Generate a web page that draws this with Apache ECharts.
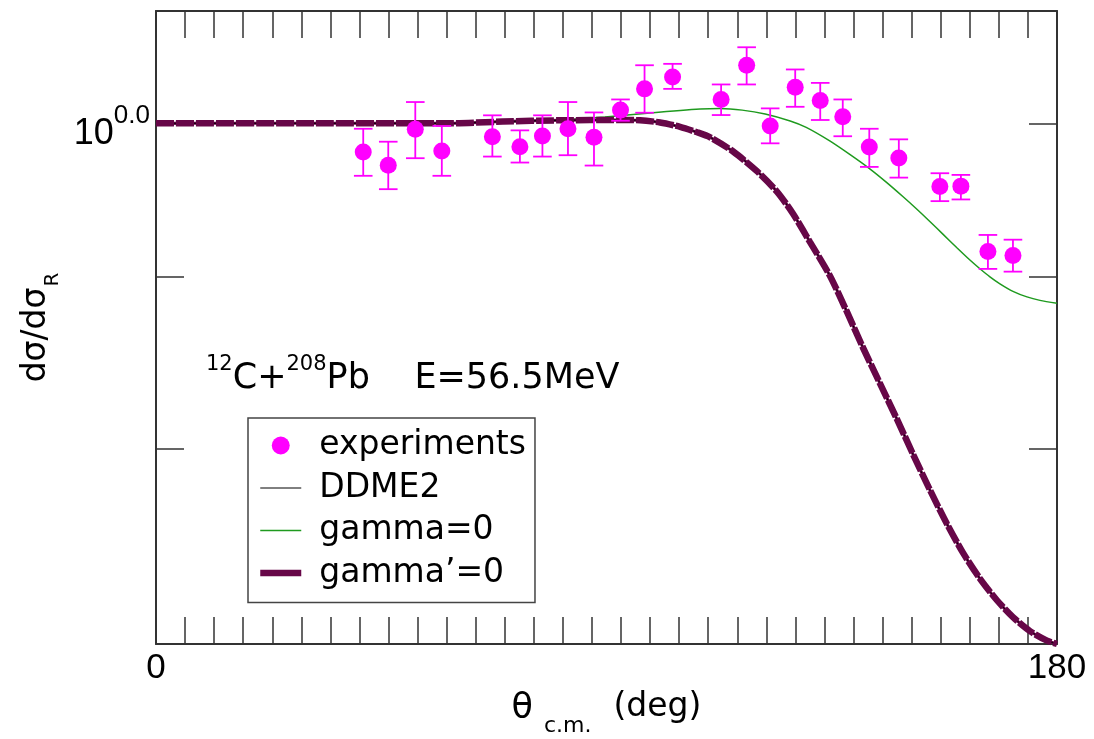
<!DOCTYPE html>
<html><head><meta charset="utf-8">
<script src="https://cdn.jsdelivr.net/npm/echarts@6/dist/echarts.min.js"></script>
<style>html,body{margin:0;padding:0;background:#fff}#c{width:1094px;height:739px}</style>
</head><body><div id="c"></div>
<script>
// ---- data ----
const expAngle = [41.4, 46.4, 51.8, 57.1, 67.2, 72.7, 77.2, 82.3, 87.5, 92.8, 97.6, 103.2, 112.9, 118.0, 122.7, 127.7, 132.7, 137.2, 142.5, 148.4, 156.6, 160.8, 166.2, 171.2];
const expValue = [0.9806, 0.9717, 0.9959, 0.9813, 0.9909, 0.9841, 0.9914, 0.9963, 0.9905, 1.0091, 1.0239, 1.0323, 1.0165, 1.0406, 0.9982, 1.0251, 1.0158, 1.0045, 0.9839, 0.9766, 0.9576, 0.9579, 0.9160, 0.9134];
const expLow   = [0.9647, 0.9559, 0.9764, 0.9647, 0.9775, 0.9735, 0.9775, 0.9784, 0.9715, 1.0018, 1.0073, 1.0239, 1.0057, 1.0270, 0.9864, 1.0114, 1.0023, 0.9912, 0.9706, 0.9635, 0.9481, 0.9492, 0.9051, 0.9034];
const expHigh  = [0.9963, 0.9875, 1.0147, 0.9982, 1.0055, 0.9952, 1.0055, 1.0147, 1.0075, 1.0165, 1.0406, 1.0416, 1.0270, 1.0535, 1.0103, 1.0376, 1.0281, 1.0165, 0.9963, 0.9891, 0.9664, 0.9653, 0.9264, 0.9234];

const gammaAngle = [0, 30, 60, 70, 80, 89.7, 98.7, 108.7, 112.7, 117.1, 121.7, 126.7, 129.9, 134.6, 138.6, 142.6, 146.0, 149.2, 151.8, 154.6, 157.2, 160.0, 162.6, 164.6, 166.6, 168.6, 171.2, 174.0, 176.6, 180];
const gammaValue = [1.0, 1.0, 1.0005, 1.001, 1.002, 1.0043, 1.0071, 1.0098, 1.0102, 1.0091, 1.0064, 1.0016, 0.9972, 0.9880, 0.9789, 0.9693, 0.9602, 0.9511, 0.9435, 0.9350, 0.9269, 0.9183, 0.9106, 0.9052, 0.9002, 0.8959, 0.8913, 0.8879, 0.8858, 0.8840];

const curveAngle = [0, 30, 58.7, 69.3, 80.7, 92.7, 96.7, 100.7, 104.7, 108.1, 110.7, 115.3, 120.0, 124.0, 127.2, 130.6, 134.6, 138.0, 141.2, 144.6, 148.0, 151.2, 154.6, 158.0, 161.2, 164.6, 168.0, 171.2, 174.6, 178.0, 180];
const ddme2Value = [1.0, 1.0, 1.0, 1.0012, 1.0021, 1.0023, 1.0021, 1.0006, 0.9976, 0.9939, 0.9905, 0.9809, 0.9679, 0.9545, 0.9403, 0.9222, 0.9010, 0.8791, 0.8578, 0.8370, 0.8167, 0.7974, 0.7780, 0.7601, 0.7452, 0.7321, 0.7213, 0.7130, 0.7062, 0.7016, 0.7000];
const gammaPrimeValue = [1.0, 1.0, 1.0, 1.0012, 1.0021, 1.0023, 1.0021, 1.0006, 0.9976, 0.9939, 0.9905, 0.9809, 0.9679, 0.9545, 0.9403, 0.9222, 0.9010, 0.8791, 0.8578, 0.8370, 0.8167, 0.7974, 0.7780, 0.7601, 0.7452, 0.7321, 0.7213, 0.7130, 0.7062, 0.7016, 0.7000];

const xLabelValues = [0, 180];
const yTickValues = [0.8, 0.9, 1.0];
const yLabelValues = [1.0];
const seriesNames = ['experiments', 'DDME2', 'gamma=0', 'gamma\u2019=0'];

// ---- chart ----
const zip = (a, b) => a.map((v, i) => [v, b[i]]);
const AX = '#333';
const MAROON = '#670748';
const chart = echarts.init(document.getElementById('c'));

const xCommon = {
  type: 'value', min: 0, max: 180, interval: 180 / 31,
  axisLine: {show: true, onZero: false, lineStyle: {color: AX, width: 2}},
  axisTick: {show: true, inside: true, length: 27, lineStyle: {color: AX, width: 1.5}},
  splitLine: {show: false}
};
const yCommon = {
  type: 'log', logBase: 10, min: 0.7, max: 1.08,
  axisLine: {show: true, onZero: false, lineStyle: {color: AX, width: 2}},
  axisTick: {show: true, inside: true, length: 28, customValues: yTickValues, lineStyle: {color: AX, width: 1.5}},
  splitLine: {show: false}, minorTick: {show: false}
};
const txt = (size, extra) => Object.assign({fontFamily: 'DejaVu Sans', fontSize: size, lineHeight: size, color: '#000', fontWeight: 'normal', verticalAlign: 'top'}, extra || {});

chart.setOption({
  animation: false,
  backgroundColor: '#fff',
  grid: {left: 156, right: 37, top: 11, bottom: 95, outerBoundsMode: 'none', containLabel: false},
  title: {
    text: '{sp|12}{m|C+}{sp|208}{m|Pb    E=56.5MeV}',
    left: 206, top: 354, padding: 0,
    textStyle: {
      fontWeight: 'normal',
      rich: {
        sp: txt(21),
        m: txt(35, {padding: [7, 0, 0, 0]})
      }
    }
  },
  legend: {
    data: [
      {name: seriesNames[0]},
      {name: seriesNames[1], itemStyle: {opacity: 0}},
      {name: seriesNames[2], itemStyle: {opacity: 0}},
      {name: seriesNames[3], itemStyle: {opacity: 0}}
    ],
    orient: 'vertical', left: 248, top: 418,
    itemWidth: 41, itemHeight: 18, itemGap: 9.5,
    padding: [11, 9, 13, 9],
    borderColor: '#444', borderWidth: 1.5, backgroundColor: '#fff',
    lineStyle: {width: 'inherit', type: 'solid'},
    textStyle: {fontFamily: 'DejaVu Sans', fontSize: 33, lineHeight: 33, color: '#000', padding: [0, 0, 0, 13]}
  },
  xAxis: [
    Object.assign({}, xCommon, {
      position: 'bottom',
      name: '{t|\u03b8}{s|c.m.}{n|(deg)}',
      nameLocation: 'middle', nameGap: 47,
      nameTextStyle: {
        rich: {
          t: txt(35),
          s: txt(22, {padding: [24, 0, 0, 11]}),
          n: txt(33, {padding: [0, 0, 0, 22]})
        }
      },
      axisLabel: {show: true, customValues: xLabelValues, margin: 7, fontFamily: 'Liberation Sans', fontSize: 35, color: '#000'}
    }),
    Object.assign({}, xCommon, {position: 'top', axisLabel: {show: false}})
  ],
  yAxis: [
    Object.assign({}, yCommon, {
      position: 'left',
      name: '{a|d\u03c3/d\u03c3}{b|R}',
      nameLocation: 'middle', nameGap: 91, nameRotate: 90,
      nameTextStyle: {
        rich: {
          a: txt(33),
          b: txt(20, {padding: [23, 0, 0, 1]})
        }
      },
      axisLabel: {
        show: true, customValues: yLabelValues, margin: 6,
        padding: [0, 0, 10, 0],
        formatter: v => '{m|10}{s|' + Math.log10(v).toFixed(1) + '}',
        rich: {
          m: {fontFamily: 'Liberation Sans', fontSize: 36, lineHeight: 36, color: '#000', verticalAlign: 'top', padding: [16, 0, 0, 0]},
          s: {fontFamily: 'Liberation Sans', fontSize: 26, lineHeight: 26, color: '#000', verticalAlign: 'top', padding: [2, 0, 0, 0]}
        }
      }
    }),
    Object.assign({}, yCommon, {position: 'right', axisLabel: {show: false}})
  ],
  series: [
    {
      name: 'gamma=0', type: 'line', data: zip(gammaAngle, gammaValue),
      showSymbol: false, symbol: 'none', smooth: 0.25, z: 1,
      lineStyle: {color: '#1f9a1f', width: 1.5}, itemStyle: {color: '#1f9a1f'}
    },
    {
      name: 'gamma\u2019=0 core', type: 'line', data: zip(curveAngle, gammaPrimeValue),
      showSymbol: false, symbol: 'none', smooth: 0.25, z: 2, silent: true,
      lineStyle: {color: MAROON, width: 3}
    },
    {
      name: 'DDME2', type: 'line', data: zip(curveAngle, ddme2Value),
      showSymbol: false, symbol: 'none', smooth: 0.25, z: 3,
      lineStyle: {color: '#000', width: 1}, itemStyle: {color: '#000'}
    },
    {
      name: 'gamma\u2019=0', type: 'line', data: zip(curveAngle, gammaPrimeValue),
      showSymbol: false, symbol: 'none', smooth: 0.25, z: 4,
      lineStyle: {color: MAROON, width: 6.5, type: [18, 2], cap: 'butt'}, itemStyle: {color: MAROON}
    },
    {
      name: 'errors', type: 'custom', z: 6,
      data: expAngle.map((a, i) => [a, expLow[i], expHigh[i]]),
      encode: {x: 0, y: [1, 2]},
      renderItem: (params, api) => {
        const x = api.value(0);
        const p1 = api.coord([x, api.value(1)]);
        const p2 = api.coord([x, api.value(2)]);
        const hw = 9.3;
        const st = {stroke: '#ff00ff', lineWidth: 1.8, fill: null};
        return {type: 'group', children: [
          {type: 'line', shape: {x1: p1[0], y1: p1[1], x2: p2[0], y2: p2[1]}, style: st},
          {type: 'line', shape: {x1: p1[0] - hw, y1: p1[1], x2: p1[0] + hw, y2: p1[1]}, style: st},
          {type: 'line', shape: {x1: p2[0] - hw, y1: p2[1], x2: p2[0] + hw, y2: p2[1]}, style: st}
        ]};
      }
    },
    {
      name: 'experiments', type: 'scatter', data: zip(expAngle, expValue),
      symbol: 'circle', symbolSize: 17, z: 7,
      itemStyle: {color: '#ff00ff', opacity: 1}
    }
  ]
});
</script></body></html>
